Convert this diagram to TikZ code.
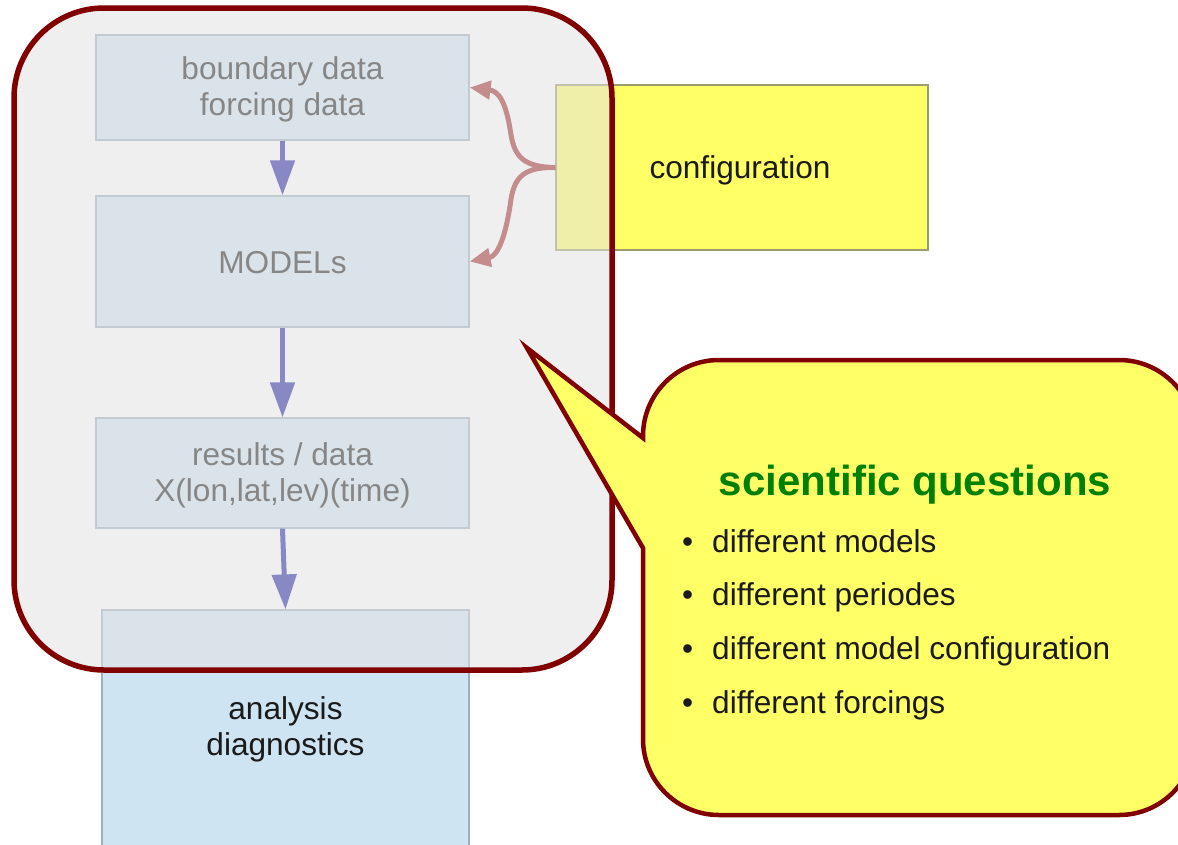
\documentclass[tikz,border=0pt]{standalone}
\usepackage{fontspec}
\setmainfont{Liberation Sans}
\usetikzlibrary{arrows.meta}
\definecolor{boxblue}{HTML}{CFE4F2}
\definecolor{boxline}{HTML}{9FAFBF}
\definecolor{cfgyellow}{HTML}{FFFF66}
\definecolor{cfgline}{HTML}{9C9C6C}
\definecolor{darkred}{HTML}{800000}
\definecolor{flowblue}{HTML}{1E1EA0}
\definecolor{cfgred}{HTML}{A02828}
\definecolor{veil}{HTML}{E3E3E3}
\definecolor{titlegreen}{HTML}{008000}
\definecolor{txt}{HTML}{1A1A1A}
\begin{document}
\begin{tikzpicture}[x=1pt,y=-1pt,
  bodytext/.style={font=\fontsize{31.6}{36}\selectfont, text=txt, align=center},
  itemtext/.style={font=\fontsize{31.6}{36}\selectfont, text=txt, inner sep=0pt, anchor=base west},
  databox/.style={draw=boxline, line width=1.2pt, fill=boxblue, minimum width=373pt, inner sep=0pt},
  flow/.style={draw=flowblue, line width=5pt, -{Triangle[length=35pt,width=24pt]}},
  cfgarrow/.style={draw=cfgred, line width=5pt, -{Triangle[length=21pt,width=18pt]}},
]
\clip (0,0) rectangle (1178,844);
\fill[white] (0,0) rectangle (1178,844);

% analysis box
\node[databox, minimum width=367pt, minimum height=250pt] (ana) at (285.5,735) {};
\node[bodytext, inner sep=0pt] (anatext) at (285.5,729) {analysis\\diagnostics};

% inner boxes
\node[databox, minimum height=105pt] (bd) at (282.5,87.5) {};
\node[bodytext, inner sep=0pt] (bdtext) at (282.5,89) {boundary data\\forcing data};
\node[databox, minimum height=131pt] (mod) at (282.5,261.5) {};
\node[bodytext, inner sep=0pt] (modtext) at (282.5,263) {MODELs};
\node[databox, minimum height=110pt] (res) at (282.5,473) {};
\node[bodytext, inner sep=0pt] (restext) at (282.5,475) {results / data\\X(lon,lat,lev)(time)};

% configuration
\node[draw=cfgline, line width=1.2pt, fill=cfgyellow, minimum width=372pt, minimum height=165pt, inner sep=0pt] (cfg) at (742,167.5) {};
\node[bodytext, inner sep=0pt] (cfgtext) at (740,170) {configuration};

% flow arrows
\draw[flow] (bd.south) -- (mod.north);
\draw[flow] (mod.south) -- (res.north);
\draw[flow] (res.south) -- (ana.north);

% configuration arrows
\draw[cfgarrow] (cfg.west) .. controls (525,167) and (515,158) .. (511,135) .. controls (506,100) and (498,91) .. (bd.east);
\draw[cfgarrow] (cfg.west) .. controls (525,167) and (515,176) .. (511,199) .. controls (506,236) and (498,256) .. (mod.east);

% translucent group
\node[draw=darkred, line width=5.5pt, fill=veil, fill opacity=0.54, rounded corners=90pt,
      minimum width=598pt, minimum height=662pt, inner sep=0pt] (grp) at (313,339) {};

% callout
\draw[draw=darkred, line width=4.5pt, fill=cfgyellow, line join=miter]
  (527,348) -- (643,438) [rounded corners=76pt] -- (643,360) -- (1195,360) -- (1195,815) -- (643,815)
  [sharp corners] -- (643,548) -- cycle;

\node[font=\fontsize{42}{48}\selectfont\bfseries, text=titlegreen, inner sep=0pt] (title) at (915,485) {scientific questions};
\node[itemtext] (q1) at (682,552) {\makebox[30pt][l]{•}different models};
\node[itemtext] (q2) at (682,605) {\makebox[30pt][l]{•}different periodes};
\node[itemtext] (q3) at (682,659) {\makebox[30pt][l]{•}different model configuration};
\node[itemtext] (q4) at (682,713) {\makebox[30pt][l]{•}different forcings};
\end{tikzpicture}
\end{document}
